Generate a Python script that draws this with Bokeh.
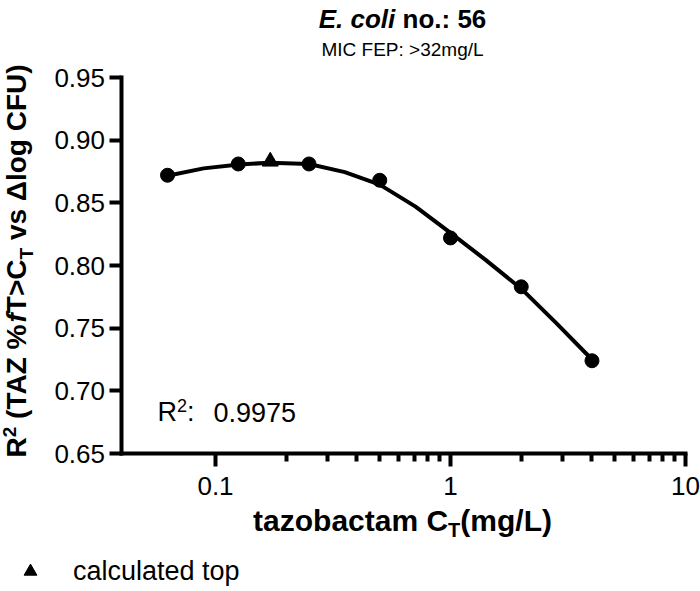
from math import pi
from bokeh.plotting import figure
from bokeh.models import Label, Legend, LegendItem, FixedTicker
from bokeh.embed import file_html
from bokeh.resources import INLINE

# ---------------- data ----------------
conc = [0.0625, 0.125, 0.25, 0.5, 1.0, 2.0, 4.0]
r2_values = [0.872, 0.881, 0.881, 0.868, 0.822, 0.783, 0.724]
top_conc = [0.171]
top_r2 = [0.883]
fit_conc = [0.0625, 0.089, 0.126, 0.17, 0.25, 0.355, 0.5, 0.71, 1.0, 1.41, 2.0, 2.82, 4.0]
fit_r2 = [0.8716, 0.8775, 0.8806, 0.8820, 0.8810, 0.8745, 0.8645, 0.8470, 0.8260, 0.8045, 0.7815, 0.7540, 0.7250]
x_axis_bounds = (0.04, 10)
y_axis_bounds = (0.65, 0.95)
x_major = [0.1, 1, 10]
x_major_labels = ["0.1", "1", "10"]
x_minor = [0.2, 0.3, 0.4, 0.5, 0.6, 0.7, 0.8, 0.9, 2, 3, 4, 5, 6, 7, 8, 9]
y_ticks = [0.65, 0.70, 0.75, 0.80, 0.85, 0.90, 0.95]
y_tick_labels = ["0.65", "0.70", "0.75", "0.80", "0.85", "0.90", "0.95"]
title_italic = "E. coli"
title_rest = "\u00a0no.: 56"
subtitle = "MIC FEP: >32mg/L"
fit_r2_text = "0.9975"
legend_label = "calculated top"

FONT = "Liberation Sans"
NB = "\u00a0"

# ---------------- layout (page pixels) ----------------
W, H = 700, 591
X_DEC = 235.0          # px per decade
X_AT_0_1 = 215.0       # px position of x = 0.1
Y_AT_065, Y_AT_095 = 453.0, 77.0
ppu = (Y_AT_065 - Y_AT_095) / 0.30
x_lo = 10 ** (-1 - X_AT_0_1 / X_DEC)
x_hi = 10 ** (-1 + (W - X_AT_0_1) / X_DEC)
y_hi = 0.95 + Y_AT_095 / ppu
y_lo = 0.65 - (H - Y_AT_065) / ppu

p = figure(width=W, height=H, x_axis_type="log", x_range=(x_lo, x_hi), y_range=(y_lo, y_hi),
           output_backend="svg", toolbar_location=None,
           min_border_left=0, min_border_right=0, min_border_top=0, min_border_bottom=0)
p.xgrid.visible = False
p.ygrid.visible = False
p.outline_line_color = None
p.background_fill_color = "white"
p.border_fill_color = "white"

xa = p.xaxis[0]
ya = p.yaxis[0]
xa.fixed_location = y_axis_bounds[0]
xa.bounds = x_axis_bounds
ya.fixed_location = x_axis_bounds[0]
ya.bounds = y_axis_bounds
xa.ticker = FixedTicker(ticks=x_major, minor_ticks=x_minor)
xa.major_label_overrides = {v: s for v, s in zip(x_major, x_major_labels)}
ya.ticker = FixedTicker(ticks=y_ticks)
ya.major_label_overrides = {v: s for v, s in zip(y_ticks, y_tick_labels)}

for ax in (xa, ya):
    ax.axis_line_width = 4
    ax.axis_line_color = "black"
    ax.axis_line_cap = "square"
    ax.major_tick_line_width = 4
    ax.major_tick_line_color = "black"
    ax.major_tick_in = 0
    ax.minor_tick_in = 0
    ax.major_label_text_font = FONT
    ax.major_label_text_font_size = "26px"
    ax.major_label_text_color = "black"
xa.major_tick_out = 13
xa.minor_tick_out = 8
xa.minor_tick_line_width = 4
xa.minor_tick_line_color = "black"
xa.major_label_standoff = 10
ya.major_tick_out = 12
ya.minor_tick_line_color = None
ya.major_label_standoff = 5

p.line(fit_conc, fit_r2, line_width=4, line_color="black", line_join="round", line_cap="round")
p.scatter(conc, r2_values, size=14, color="black")
tri = p.scatter(top_conc, top_r2, marker="triangle", size=16, color="black")

# ---------------- text helpers ----------------
_REG = {' ': 278, NB: 278, '(': 333, ')': 333, '%': 889, '.': 278, '/': 278, ':': 278, '>': 584,
        'A': 667, 'C': 722, 'E': 667, 'F': 611, 'I': 278, 'L': 556, 'M': 833, 'P': 667,
        'R': 722, 'T': 611, 'U': 722, 'Z': 611, 'a': 556, 'b': 556, 'c': 500, 'd': 556,
        'e': 556, 'f': 278, 'g': 556, 'i': 222, 'l': 222, 'm': 833, 'n': 556, 'o': 556,
        'p': 556, 's': 500, 't': 278, 'u': 556, 'v': 500, 'z': 500, 'Δ': 668}
_BOLD = {' ': 278, NB: 278, '(': 333, ')': 333, '%': 889, '.': 278, '/': 278, ':': 333, '>': 584,
         'A': 722, 'C': 722, 'E': 667, 'F': 611, 'I': 278, 'L': 611, 'M': 833, 'P': 667,
         'R': 722, 'T': 611, 'U': 722, 'Z': 611, 'a': 556, 'b': 611, 'c': 556, 'd': 611,
         'e': 556, 'f': 333, 'g': 611, 'i': 278, 'l': 278, 'm': 889, 'n': 611, 'o': 611,
         'p': 611, 's': 556, 't': 333, 'u': 611, 'v': 556, 'z': 500, 'Δ': 722}
for d in (_REG, _BOLD):
    for ch in "0123456789":
        d[ch] = 556

BASE_SHIFT = 0.38   # empirical baseline correction (fraction of font size)


def _w(text, size, style):
    tab = _BOLD if "bold" in style else _REG
    return sum(tab.get(c, 556) for c in text) * size / 1000.0


def _label(text, X, Y, size, style, angle=0.0, align="left"):
    # X, Y: page pixels of the text baseline start (frame fills the whole canvas)
    p.add_layout(Label(x=X, y=H - Y, x_units="screen", y_units="screen", text=text,
                       text_font=FONT, text_font_size=f"{size}px", text_font_style=style,
                       text_color="black", text_align=align, text_baseline="alphabetic",
                       angle=angle))


def run_h(pieces, X, Y, center=False):
    total = sum(_w(t, s, st) for t, s, st, _ in pieces)
    pos = X - total / 2 if center else X
    for t, s, st, r in pieces:
        _label(t, pos, Y - r - BASE_SHIFT * s, s, st)
        pos += _w(t, s, st)


def run_v(pieces, X, Y):
    pos = 0.0
    for t, s, st, r in pieces:
        _label(t, X - r - BASE_SHIFT * s, Y - pos, s, st, angle=pi / 2)
        pos += _w(t, s, st)


# title and subtitle
run_h([(title_italic, 26, "bold italic", 0), (title_rest, 26, "bold", 0)], 402, 28, center=True)
run_h([(subtitle, 19, "normal", 0)], 402, 56, center=True)

# x axis label
run_h([("tazobactam" + NB + "C", 30, "bold", 0), ("T", 20, "bold", -6), ("(mg/L)", 30, "bold", 0)],
      402, 531, center=True)

# y axis label
run_v([("R", 28, "bold", 0), ("2", 19, "bold", 11), (NB + "(TAZ" + NB + "%", 28, "bold", 0),
       ("f", 28, "bold italic", 0), ("T>C", 28, "bold", 0), ("T", 19, "bold", -6),
       (NB + "vs" + NB + "Δlog" + NB + "CFU)", 28, "bold", 0)], 27, 457)

# goodness of fit
run_h([("R", 27, "normal", 0), ("2", 18, "normal", 10), (":", 27, "normal", 0)], 157, 422)
run_h([(fit_r2_text, 27, "normal", 0)], 213, 422)

# legend
legend = Legend(items=[LegendItem(label=legend_label, renderers=[tri])],
                location=(14, 4), padding=0, margin=0, spacing=0,
                glyph_width=32, glyph_height=32, label_standoff=27,
                label_text_font=FONT, label_text_font_size="27px", label_text_color="black",
                border_line_color=None, background_fill_alpha=0)
p.add_layout(legend)

open("out.html", "w").write(file_html(p, INLINE))
